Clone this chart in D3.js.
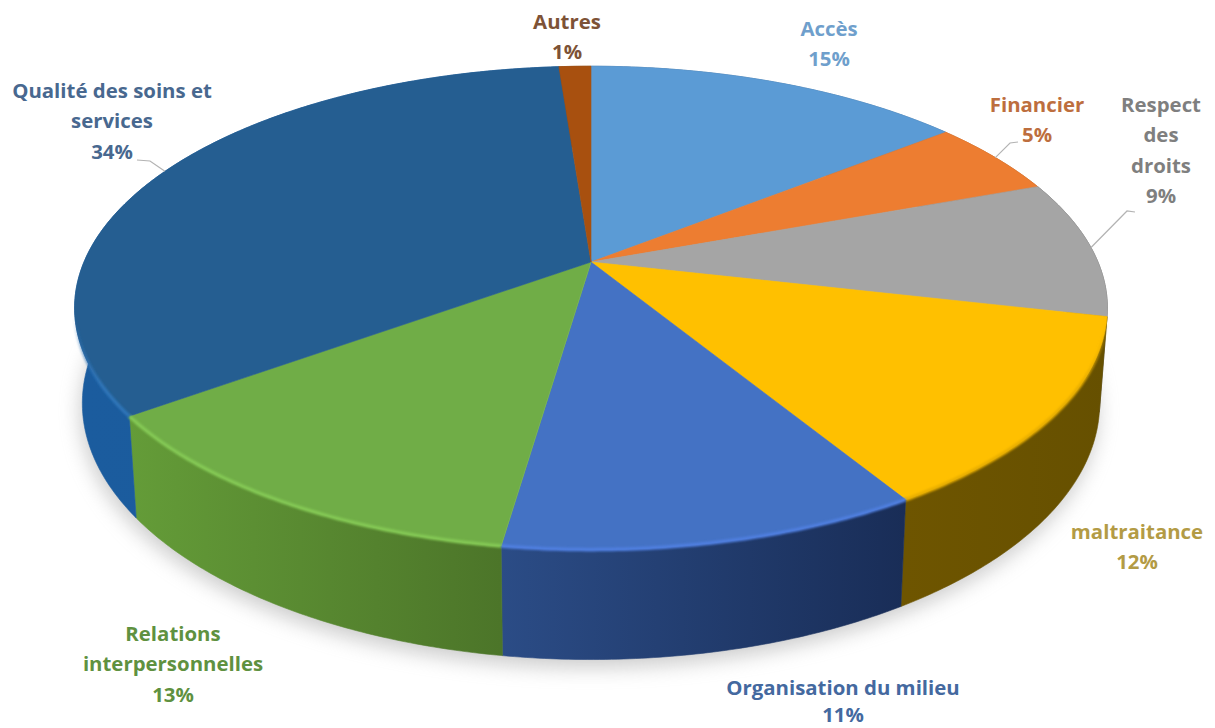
<!DOCTYPE html>
<html lang="fr">
<head>
<meta charset="utf-8">
<title>Répartition des motifs de plainte</title>
<script src="https://cdn.jsdelivr.net/npm/d3@7"></script>
<style>
  html, body { margin: 0; background: #fff; }
  svg { display: block; }
  text { font-family: "Open Sans", Lato, sans-serif; font-weight: 700; font-size: 20.4px; text-anchor: middle; }
</style>
</head>
<body>
<svg id="chart" width="1215" height="728"></svg>
<script>
// Slices, clockwise from twelve o'clock
const categories = ["Accès", "Financier", "Respect des droits", "maltraitance",
  "Organisation du milieu", "Relations interpersonnelles", "Qualité des soins et services", "Autres"];
const percents = [15, 5, 9, 12, 11, 13, 34, 1];

// Per-slice colours
const topColors   = ["#5b9bd5", "#ed7d31", "#a5a5a5", "#ffc000", "#4472c4", "#70ad47", "#255e91", "#a8500f"];
const rimColors   = ["#5b9bd5", "#ed7d31", "#a5a5a5", "#e8ae00", "#4f7fe0", "#84c955", "#2f75b8", "#a8500f"];
const wallStart   = ["#3a6a96", "#a6561f", "#5e5e5e", "#6e5500", "#2b4c86", "#649c38", "#1b5c9e", "#6e380b"];
const wallEnd     = ["#3a6a96", "#a6561f", "#5e5e5e", "#665000", "#192d57", "#4c7529", "#1b5a9c", "#6e380b"];
const textColors  = ["#6f9fcc", "#bd6e3e", "#7f7f7f", "#b39b45", "#44699f", "#5f9140", "#48688f", "#7d5236"];

// Label layout: wrapped lines, centre x, first line centre y, row spacing
const labelLines = [["Accès"], ["Financier"], ["Respect", "des", "droits"], ["maltraitance"],
  ["Organisation du milieu"], ["Relations", "interpersonnelles"], ["Qualité des soins et", "services"], ["Autres"]];
const labelX = [829, 1037, 1161, 1137, 843, 173, 112, 567];
const labelY = [30, 106, 106, 533, 689, 635, 92, 23];
const labelStep = [30.3, 30.3, 30.3, 30.3, 27, 30.3, 30.3, 30.3];

// Leader lines: slice index and the elbow/start points beside the label
const leaders = [
  { slice: 1, from: [1018, 142], elbow: [1010, 143] },
  { slice: 2, from: [1135, 212], elbow: [1127, 211] },
  { slice: 6, from: [137, 160], elbow: [150, 161] }
];

// Perspective camera for the disc: apex, radius, foreshortening, wall height
const cx = 591, cy = 262, radius = 507, flat = 233, persp = 0.19;
const wallHeight = 92.5, bottomScale = 0.985;

// Slight angular distortion of the tilted 3D disc, in shares of a full turn
const tilt = d3.scaleLinear()
  .domain([0, 15, 20, 29, 41, 52, 65, 99, 100].map(p => p / 100 * 2 * Math.PI))
  .range([0, 14.3, 19.4, 28.6, 41.3, 52.3, 65, 98.8, 100].map(p => p / 100 * 2 * Math.PI));

// Project a pie angle (0 = up, clockwise) onto the top or bottom plane
function project(angle, lower = false) {
  const a = tilt(angle);
  const u = Math.sin(a), v = -Math.cos(a), w = 1 - persp * v;
  const s = lower ? bottomScale : 1;
  return [cx + radius * s * u / w, cy + (flat * s * v + (lower ? wallHeight : 0)) / w];
}

function arcSamples(a0, a1) {
  const n = Math.max(2, Math.ceil((a1 - a0) / 0.01));
  return d3.range(n + 1).map(i => a0 + (a1 - a0) * i / n);
}

const slices = d3.pie().sort(null).value(d => d)(percents);
const svg = d3.select("#chart");
const defs = svg.append("defs");
const line = d3.line();

defs.append("filter").attr("id", "soft").attr("x", "-10%").attr("y", "-10%").attr("width", "120%").attr("height", "120%")
  .append("feGaussianBlur").attr("stdDeviation", 10);
defs.append("filter").attr("id", "bevel").attr("filterUnits", "userSpaceOnUse")
  .attr("x", 0).attr("y", 0).attr("width", 1215).attr("height", 728)
  .append("feGaussianBlur").attr("stdDeviation", 1);

// Soft ground shadow under the base
const fullTurn = arcSamples(0, 2 * Math.PI);
svg.append("path")
  .attr("d", line(fullTurn.map(a => project(a, true))) + "Z")
  .attr("transform", "translate(-2,8)")
  .attr("fill", "#9a9a9a")
  .attr("opacity", 0.5)
  .attr("filter", "url(#soft)");

// Outer walls; the back half ends up hidden by the top surface
slices.forEach((d, i) => {
  const angles = arcSamples(d.startAngle, d.endAngle);
  const upper = angles.map(a => project(a));
  const lower = angles.map(a => project(a, true)).reverse();
  const xs = d3.extent(upper, p => p[0]);
  const id = "wall" + i;
  const g = defs.append("linearGradient").attr("id", id).attr("gradientUnits", "userSpaceOnUse")
    .attr("x1", xs[0]).attr("x2", xs[1]).attr("y1", 0).attr("y2", 0);
  g.append("stop").attr("offset", 0).attr("stop-color", wallStart[i]);
  g.append("stop").attr("offset", 1).attr("stop-color", wallEnd[i]);
  svg.append("path").attr("d", line(upper.concat(lower)) + "Z")
    .attr("fill", `url(#${id})`).attr("stroke", `url(#${id})`).attr("stroke-width", 0.6);
});

// Top surface
slices.forEach((d, i) => {
  const pts = [[cx, cy]].concat(arcSamples(d.startAngle, d.endAngle).map(a => project(a)));
  svg.append("path").attr("d", line(pts) + "Z")
    .attr("fill", topColors[i]).attr("stroke", topColors[i]).attr("stroke-width", 0.6);
});

// Bevel highlight along the front of the rim, fading in towards the sides
slices.forEach((d, i) => {
  const angles = arcSamples(d.startAngle, d.endAngle).filter(a => -Math.cos(tilt(a)) > 0.05);
  if (angles.length < 2) return;
  const id = "rim" + i;
  const g = defs.append("linearGradient").attr("id", id).attr("gradientUnits", "userSpaceOnUse")
    .attr("x1", 0).attr("x2", 0).attr("y1", cy + 55).attr("y2", cy + 125);
  g.append("stop").attr("offset", 0).attr("stop-color", rimColors[i]).attr("stop-opacity", 0);
  g.append("stop").attr("offset", 1).attr("stop-color", rimColors[i]).attr("stop-opacity", 1);
  svg.append("path").attr("d", line(angles.map(a => project(a))))
    .attr("fill", "none").attr("stroke", `url(#${id})`).attr("stroke-width", 3.5)
    .attr("filter", "url(#bevel)");
});

// Thin lit seam between the two front slices
svg.append("path")
  .attr("d", line([[cx, cy], project(slices[5].startAngle)]))
  .attr("stroke", "#7fb95a").attr("stroke-width", 1).attr("opacity", 0.6).attr("fill", "none");

// Leader lines reach the rim at each slice's mid-angle
svg.selectAll("path.leader").data(leaders).join("path")
  .attr("class", "leader")
  .attr("d", l => {
    const s = slices[l.slice];
    return line([l.from, l.elbow, project((s.startAngle + s.endAngle) / 2)]);
  })
  .attr("fill", "none").attr("stroke", "#b3b3b3").attr("stroke-width", 1.2);

// Category and percentage labels
categories.forEach((name, i) => {
  const rows = labelLines[i].concat(percents[i] + "%");
  const t = svg.append("text").attr("fill", textColors[i]).attr("aria-label", name);
  rows.forEach((row, r) => {
    t.append("tspan").attr("x", labelX[i]).attr("y", labelY[i] + r * labelStep[i] + 6).text(row);
  });
});
</script>
</body>
</html>
